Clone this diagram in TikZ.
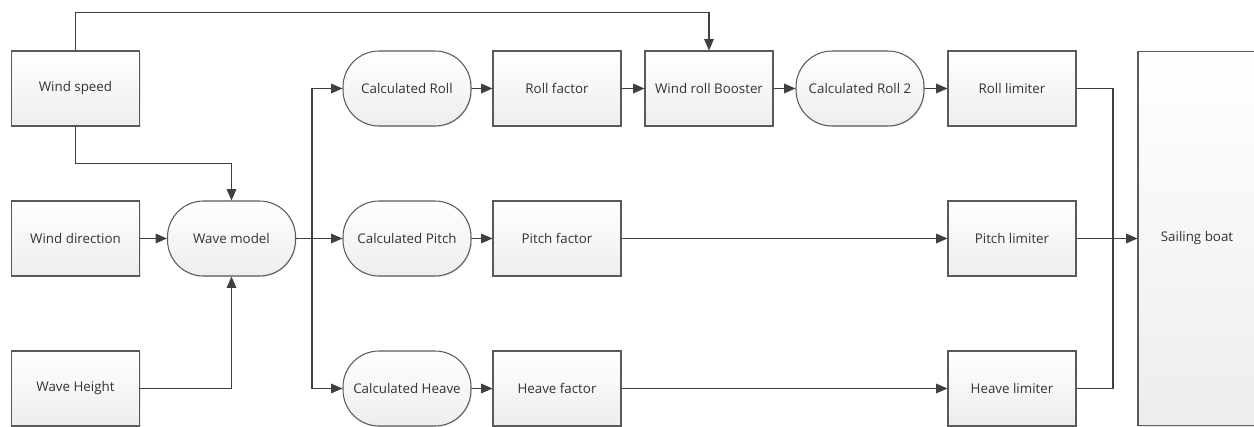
\documentclass[tikz,border=0pt]{standalone}
\usepackage{fontspec}
\setmainfont{Open Sans}
\usetikzlibrary{arrows.meta,shadows}
\definecolor{linegray}{HTML}{404040}
\definecolor{boxgray}{HTML}{5A5A5A}
\definecolor{textgray}{HTML}{333333}

\begin{document}
\begin{tikzpicture}[x=0.02cm,y=-0.02cm,
    block/.style={draw=boxgray,line width=0.6pt,top color=white,bottom color=black!7,
        minimum width=2.56cm,minimum height=1.5cm,inner sep=0pt,
        font={\fontsize{7.6}{9}\selectfont},text=textgray,
        drop shadow={opacity=0.18,shadow xshift=0.6pt,shadow yshift=-0.6pt}},
    calc/.style={block,rounded corners=0.72cm},
    flow/.style={draw=linegray,line width=0.6pt,-{Triangle[length=6.5pt,width=5.5pt]}},
    wire/.style={draw=linegray,line width=0.6pt}]
\useasboundingbox (0,0) rectangle (1254,426);

% inputs
\node[block] (wspeed) at (75.5,88.5) {Wind speed};
\node[block] (wdir) at (75.5,238.5) {Wind direction};
\node[block] (wheight) at (75.5,388.5) {Wave Height};
\node[calc] (wave) at (231.5,238.5) {Wave model};

% roll row
\node[calc] (croll) at (407,88.5) {Calculated Roll};
\node[block] (rollf) at (557,88.5) {Roll factor};
\node[block] (booster) at (709,88.5) {Wind roll Booster};
\node[calc] (croll2) at (860,88.5) {Calculated Roll 2};
\node[block] (rolllim) at (1012,88.5) {Roll limiter};

% pitch row
\node[calc] (cpitch) at (407,238.5) {Calculated Pitch};
\node[block] (pitchf) at (557,238.5) {Pitch factor};
\node[block] (pitchlim) at (1012,238.5) {Pitch limiter};

% heave row
\node[calc] (cheave) at (407,388.5) {Calculated Heave};
\node[block] (heavef) at (557,388.5) {Heave factor};
\node[block] (heavelim) at (1012,388.5) {Heave limiter};

\node[block,minimum width=2.36cm,minimum height=7.48cm] (boat) at (1197,238.5) {Sailing boat};

\coordinate (split) at (312,238.5);
\coordinate (merge) at (1113,238.5);

\draw[flow] (wspeed.north) -- ++(0,-38) -| (booster.north);
\draw[flow] (wspeed.south) -- ++(0,37) -| (wave.north);
\draw[flow] (wdir) -- (wave);
\draw[flow] (wheight.east) -| (wave.south);

\draw[flow] (wave) -- (cpitch);
\draw[flow] (split) |- (croll.west);
\draw[flow] (split) |- (cheave.west);

\draw[flow] (croll) -- (rollf);
\draw[flow] (rollf) -- (booster);
\draw[flow] (booster) -- (croll2);
\draw[flow] (croll2) -- (rolllim);

\draw[flow] (cpitch) -- (pitchf);
\draw[flow] (pitchf) -- (pitchlim);
\draw[flow] (pitchlim) -- (boat);

\draw[flow] (cheave) -- (heavef);
\draw[flow] (heavef) -- (heavelim);

\draw[wire] (rolllim.east) -| (merge) |- (heavelim.east);
\end{tikzpicture}
\end{document}
